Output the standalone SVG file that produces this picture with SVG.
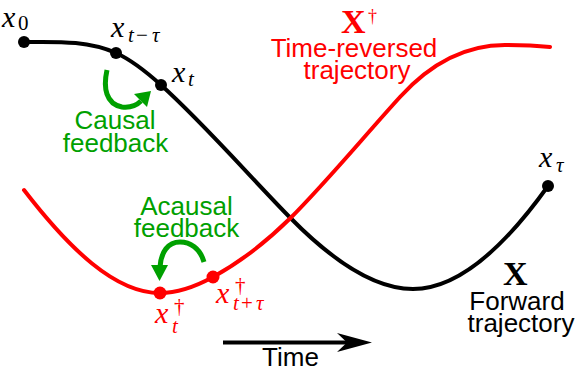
<svg xmlns="http://www.w3.org/2000/svg" width="582" height="370" viewBox="0 0 582 370">
<style>
.bk{fill:none;stroke:#000;stroke-width:4;stroke-linecap:round}
.rd{fill:none;stroke:#ff0000;stroke-width:4;stroke-linecap:round}
.gr{fill:none;stroke:#00a000;stroke-width:5}
.sans{font-family:"Liberation Sans",Arial,sans-serif;font-size:26px;text-anchor:middle}
.mi{font-family:"Liberation Serif","Times New Roman",serif;font-style:italic;font-size:30px}
.sub{font-family:"Liberation Serif","Times New Roman",serif;font-style:italic;font-size:21px}
.up{font-family:"Liberation Serif","Times New Roman",serif;font-style:normal}
.bold{font-family:"Liberation Serif","Times New Roman",serif;font-weight:bold;font-size:34px}
.red{fill:#ff0000}
.green{fill:#00a000}
</style>
<g id="connectors">
  <path id="forward" class="bk" d="M24,42 C54.7,42 86,40 116,53 C131,59.75 146,71.5 161,85 C204,123.7 247,173.6 290,217.5 C331,259.3 373,289 413,289 C458,289 503,249 548,186"/>
  <path id="reversed" class="rd" d="M24,190 C69,248.5 115,293 160,293 C177.7,293 195.3,286.7 213,277 C238.7,262.9 264.3,243.7 290,218.5 C326.7,181.8 363.3,137.3 400,97 C435,58.5 470,45 505,45 C520,45 535,45.5 550,47"/>
  <g id="causal-arrow">
    <path class="gr" d="M107,70 C103,88 106,104 122,107 C131,108 137,105 141,101"/>
    <polygon fill="#00a000" points="151,91 147,107 134,94"/>
  </g>
  <g id="acausal-arrow">
    <path class="gr" d="M204,262 C200,248 190,242 180,242 C168,242 161,252 160,267"/>
    <polygon fill="#00a000" points="159.5,281 151,265 168,265"/>
  </g>
  <g id="time-arrow">
    <line x1="223" y1="342.5" x2="355" y2="342.5" stroke="#000" stroke-width="4"/>
    <polygon fill="#000" points="372,342.5 337,333 347,342.5 337,352"/>
  </g>
</g>
<g id="x0">
  <circle cx="24" cy="42" r="6"/>
  <text><tspan class="mi" x="2" y="27">x</tspan><tspan class="sub up" x="18" y="30" font-size="19">0</tspan></text>
</g>
<g id="xt-tau">
  <circle cx="116" cy="53" r="6"/>
  <text><tspan class="mi" x="111" y="37">x</tspan><tspan class="sub" x="128" y="42">t</tspan><tspan class="sub up" x="136" y="42">−</tspan><tspan class="sub" x="152" y="42">τ</tspan></text>
</g>
<g id="xt">
  <circle cx="161" cy="85" r="6"/>
  <text><tspan class="mi" x="172" y="82">x</tspan><tspan class="sub" x="188" y="86">t</tspan></text>
</g>
<g id="xT">
  <circle cx="548" cy="186" r="6"/>
  <text><tspan class="mi" x="539" y="167">x</tspan><tspan class="sub" x="556" y="172">τ</tspan></text>
</g>
<g id="xt-dagger" class="red">
  <circle cx="160" cy="293" r="6.5"/>
  <text><tspan class="mi" x="155" y="323">x</tspan><tspan class="sub up" x="174" y="313" font-size="15">†</tspan><tspan class="sub" x="172" y="333">t</tspan></text>
</g>
<g id="xttau-dagger" class="red">
  <circle cx="213" cy="277" r="6.5"/>
  <text><tspan class="mi" x="216" y="303">x</tspan><tspan class="sub up" x="235" y="292" font-size="15">†</tspan><tspan class="sub" x="233" y="310">t</tspan><tspan class="sub up" x="241" y="310">+</tspan><tspan class="sub" x="256" y="310">τ</tspan></text>
</g>
<g id="reversed-label" class="red">
  <text class="bold" x="341" y="33">X</text>
  <text class="up" font-family="Liberation Serif, serif" font-size="18" x="368" y="22">†</text>
  <text class="sans" x="354" y="57">Time-reversed</text>
  <text class="sans" x="357" y="79">trajectory</text>
</g>
<g id="forward-label">
  <text class="bold" x="503" y="285">X</text>
  <text class="sans" x="517" y="310">Forward</text>
  <text class="sans" x="521" y="332">trajectory</text>
</g>
<g id="causal-label" class="green">
  <text class="sans" x="115" y="129">Causal</text>
  <text class="sans" x="115.5" y="151.5">feedback</text>
</g>
<g id="acausal-label" class="green">
  <text class="sans" x="186.5" y="215">Acausal</text>
  <text class="sans" x="186.5" y="237">feedback</text>
</g>
<g id="time-label">
  <text class="sans" x="290.5" y="366" font-size="25">Time</text>
</g>
</svg>
